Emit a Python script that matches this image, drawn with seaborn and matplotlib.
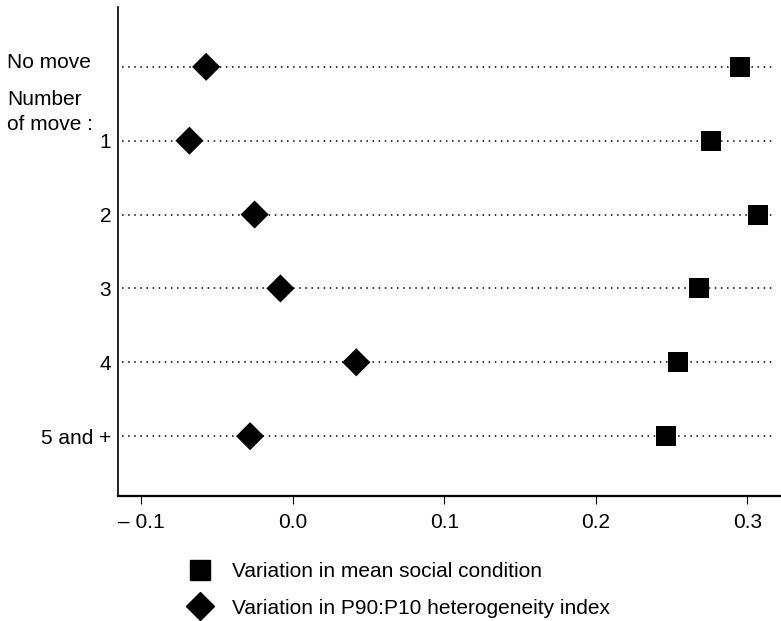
import numpy as np
import matplotlib
matplotlib.use("Agg")
import matplotlib.pyplot as plt
from matplotlib.lines import Line2D
import seaborn as sns
import pandas as pd

# rows of the chart, top to bottom
rows = ["No move", "1", "2", "3", "4", "5 and +"]
row_tick_labels = ["", "1", "2", "3", "4", "5 and +"]

# values
mean_social = [0.295, 0.276, 0.307, 0.268, 0.254, 0.246]
p90_p10 = [-0.057, -0.068, -0.025, -0.008, 0.042, -0.028]

series_names = ["Variation in mean social condition",
                "Variation in P90:P10 heterogeneity index"]

x_ticks = [-0.1, 0.0, 0.1, 0.2, 0.3]
x_tick_labels = ["\u2013 0.1", "0.0", "0.1", "0.2", "0.3"]

df = pd.DataFrame({
    "row": rows * 2,
    "value": mean_social + p90_p10,
    "series": [series_names[0]] * len(rows) + [series_names[1]] * len(rows),
})

sns.set_theme(style="white")
plt.rcParams["font.family"] = ["Liberation Sans", "DejaVu Sans"]
plt.rcParams["font.size"] = 15
plt.rcParams["text.color"] = "black"

fig = plt.figure(figsize=(7.81, 6.21), dpi=100)
ax = fig.add_axes([118 / 781, 1 - 496 / 621, 1 - 118 / 781, (496 - 7) / 621])

# dotted guide lines
for i in range(len(rows)):
    ax.axhline(i, xmin=0.006, xmax=0.99, color="black",
               linestyle=(0, (1, 3)), linewidth=1.1, zorder=1)

sns.scatterplot(
    data=df, x="value", y="row", style="series",
    markers={series_names[0]: "s", series_names[1]: "D"},
    color="black", s=205, linewidth=0, legend=False, ax=ax, zorder=3,
)

ax.set_xlim(-0.1151, 0.3221)
ax.set_ylim(len(rows) - 1 + 0.81, -0.81)
ax.set_xticks(x_ticks, x_tick_labels)
ax.set_yticks(range(len(rows)), row_tick_labels)
ax.set_xlabel("")
ax.set_ylabel("")

ax.tick_params(axis="x", bottom=True, length=6, width=0.8, color="black",
               pad=6, labelsize=15, labelcolor="black")
ax.tick_params(axis="y", left=False, length=0, pad=5, labelsize=15,
               labelcolor="black")

sns.despine(ax=ax)
ax.spines["left"].set_linewidth(1.2)
ax.spines["left"].set_color("black")
ax.spines["bottom"].set_linewidth(1.6)
ax.spines["bottom"].set_color("black")

fig.text(7 / 781, 1 - 68 / 621, "No move", fontsize=15, ha="left", va="baseline")
fig.text(7 / 781, 1 - 112 / 621, "Number\nof move :", fontsize=15,
         ha="left", va="center", linespacing=1.42)

handles = [
    Line2D([], [], marker="s", color="black", linestyle="none", markersize=14.3),
    Line2D([], [], marker="D", color="black", linestyle="none", markersize=14.3),
]
fig.legend(handles, series_names, loc="upper left",
           bbox_to_anchor=(190 / 781, 1 - 562 / 621), bbox_transform=fig.transFigure,
           frameon=False, fontsize=15, handlelength=1.0, handletextpad=1.0,
           labelspacing=0.85, borderpad=0, borderaxespad=0)

fig.savefig("out.png", dpi=100)
